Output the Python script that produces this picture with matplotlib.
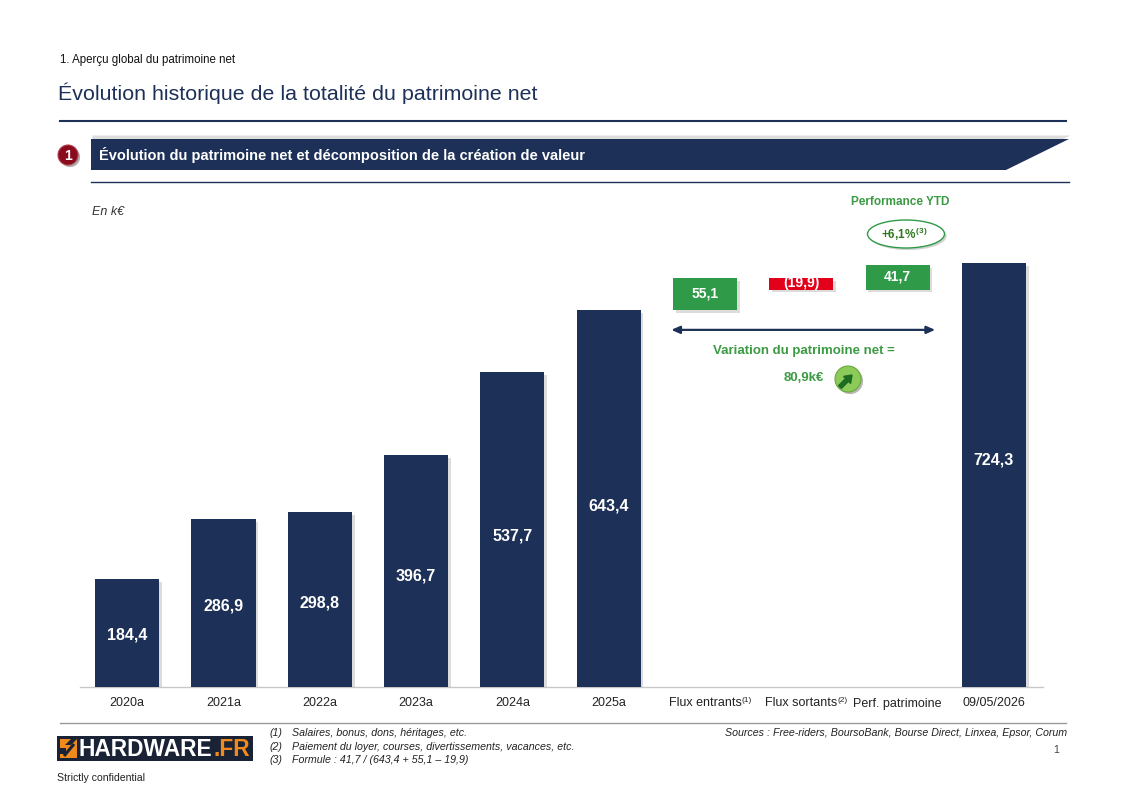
import matplotlib
matplotlib.use("Agg")
import matplotlib.pyplot as plt
import matplotlib.patheffects as pe
import matplotlib.transforms as mtransforms
from matplotlib.patches import Polygon, Rectangle, Ellipse, Circle, FancyArrow

plt.rcParams['font.family'] = ['Liberation Sans', 'DejaVu Sans']
plt.rcParams['mathtext.fontset'] = 'custom'
plt.rcParams['mathtext.rm'] = 'Liberation Sans'
plt.rcParams['mathtext.bf'] = 'Liberation Sans:bold'
plt.rcParams['mathtext.it'] = 'Liberation Sans:italic'

# ---------------- data ----------------
categories = ['2020a', '2021a', '2022a', '2023a', '2024a', '2025a',
              'Flux entrants', 'Flux sortants', 'Perf. patrimoine', '09/05/2026']
category_notes = ['', '', '', '', '', '', '(1)', '(2)', '', '']
annual_values = [184.4, 286.9, 298.8, 396.7, 537.7, 643.4]
flux_values = [55.1, -19.9, 41.7]
final_value = 724.3
variation_value = 80.9
perf_ytd = '+6,1%'

footnotes = ['Salaires, bonus, dons, héritages, etc.',
             'Paiement du loyer, courses, divertissements, vacances, etc.',
             'Formule : 41,7 / (643,4 + 55,1 – 19,9)']
sources = 'Sources : Free-riders, BoursoBank, Bourse Direct, Linxea, Epsor, Corum'

NAVY = '#1D3057'
GREEN = '#2F9A47'
RED = '#E2001A'
TXTGREEN = '#3B9A43'
DARKGREEN = '#2E7A1E'

def fmt(v):
    s = f"{abs(v):.1f}".replace('.', ',')
    return f"({s})" if v < 0 else s

W, H = 1123, 794
fig = plt.figure(figsize=(W / 100, H / 100), dpi=100)
fig.patch.set_facecolor('white')

# ---------------- main chart ----------------
ax = fig.add_axes([80 / W, 1 - 687 / H, 963 / W, 0.612])
ax.set_xlim(-0.49, 9.51)
ax.set_ylim(0, 830)
for s in ['top', 'right', 'left']:
    ax.spines[s].set_visible(False)
ax.spines['bottom'].set_color('#C8C8C8')
ax.spines['bottom'].set_linewidth(1.0)
ax.set_yticks([])
ax.set_xticks([])

# category labels (baseline aligned, with superscript notes)
trans = mtransforms.blended_transform_factory(ax.transData, ax.transAxes)
label_y = -19.5 / (0.612 * H)
cat_texts = []
for i, c in enumerate(categories):
    t = ax.text(i, label_y, c, transform=trans, ha='center', va='baseline',
                fontsize=9, color='#222222', clip_on=False)
    cat_texts.append(t)
fig.canvas.draw()
renderer = fig.canvas.get_renderer()
for t, n in zip(cat_texts, category_notes):
    if n:
        bb = t.get_window_extent(renderer)
        fig.text(bb.x1 / W + 0.5 / W, (bb.y0 + 8) / H, n, fontsize=6,
                 color='#222222', ha='left', va='baseline')

shadow = [pe.SimplePatchShadow(offset=(2, -2), shadow_rgbFace='#8C8C8C', alpha=0.3), pe.Normal()]
bw = 0.665

# annual bars
xs_annual = list(range(len(annual_values)))
bars = ax.bar(xs_annual, annual_values, width=bw, color=NAVY, zorder=3)
for b in bars:
    b.set_path_effects(shadow)
for x, v in zip(xs_annual, annual_values):
    ax.text(x, v * 0.48, fmt(v), ha='center', va='center', color='white',
            fontsize=11.5, fontweight='bold', zorder=5)

# waterfall
level = annual_values[-1]
flux_colors = [GREEN if v >= 0 else RED for v in flux_values]
for i, (v, c) in enumerate(zip(flux_values, flux_colors)):
    x = len(annual_values) + i
    bottom = level if v >= 0 else level + v
    b = ax.bar(x, abs(v), bottom=bottom, width=bw, color=c, zorder=3)[0]
    b.set_path_effects(shadow)
    ax.text(x, bottom + abs(v) / 2 + 1, fmt(v), ha='center', va='center', color='white',
            fontsize=10, fontweight='bold', zorder=5)
    level += v

# final bar
xf = len(categories) - 1
fb = ax.bar(xf, final_value, width=bw, color=NAVY, zorder=3)[0]
fb.set_path_effects(shadow)
ax.text(xf, final_value * 0.535, fmt(final_value), ha='center', va='center', color='white',
        fontsize=11.5, fontweight='bold', zorder=5)

# variation annotation
ax.annotate('', xy=(8 + 0.39, 610), xytext=(6 - 0.35, 610),
            arrowprops=dict(arrowstyle='<|-|>,head_length=0.5,head_width=0.22',
                            color=NAVY, lw=1.6, shrinkA=0, shrinkB=0), zorder=4)
ax.text(7.03, 574, 'Variation du patrimoine net =', ha='center', va='center',
        color=TXTGREEN, fontsize=9.5, fontweight='bold')
ax.text(7.03, 528, fmt(variation_value) + 'k€', ha='center', va='center',
        color=TXTGREEN, fontsize=9.5, fontweight='bold')
ax.text(8.03, 828, 'Performance YTD', ha='center', va='center',
        color=TXTGREEN, fontsize=8.5, fontweight='bold', clip_on=False)

# ---------------- overlay (page decoration) ----------------
ov = fig.add_axes([0, 0, 1, 1], zorder=10)
ov.set_xlim(0, W)
ov.set_ylim(H, 0)
ov.axis('off')
ov.patch.set_alpha(0)

ov.text(60, 60, '1. Aperçu global du patrimoine net', fontsize=8.3, color='#111111',
        ha='left', va='center')
ov.text(58, 93, 'Évolution historique de la totalité du patrimoine net', fontsize=15.4,
        color='#1D3057', ha='left', va='center')
ov.plot([60, 1066], [121, 121], color='#1D3057', lw=1.5)

# banner
band = Polygon([(91, 139), (1069, 139), (1006, 170), (91, 170)], closed=True,
               facecolor=NAVY, edgecolor='none')
band.set_path_effects([pe.SimplePatchShadow(offset=(1, 2.5), shadow_rgbFace='#909090', alpha=0.3),
                       pe.Normal()])
ov.add_patch(band)
ov.text(99, 155, 'Évolution du patrimoine net et décomposition de la création de valeur',
        fontsize=10.5, fontweight='bold', color='white', ha='left', va='center')
ov.plot([91, 1069], [182, 182], color='#1D3057', lw=1.0)

# badge
badge = Circle((68, 155), 10, facecolor='#8A0B1E', edgecolor='#B04050', lw=0.8)
badge.set_path_effects([pe.SimplePatchShadow(offset=(1.5, -1.5), shadow_rgbFace='#606060', alpha=0.5),
                        pe.Normal()])
ov.add_patch(badge)
ov.text(68, 155.5, '1', fontsize=10, fontweight='bold', color='white', ha='center', va='center')

ov.text(92, 212, 'En k€', fontsize=9, style='italic', color='#333333', ha='left', va='center')

# YTD ellipse
ell = Ellipse((906, 234), 77, 28, facecolor='white', edgecolor=GREEN, lw=1.0)
ell.set_path_effects([pe.SimplePatchShadow(offset=(1.5, -1.5), shadow_rgbFace='#808080', alpha=0.35),
                      pe.Normal()])
ov.add_patch(ell)
ov.text(904, 234, perf_ytd + r'$^{\mathbf{\,(3)}}$', fontsize=8.5, fontweight='bold',
        color=DARKGREEN, ha='center', va='center')

# up arrow icon
ic = Circle((848, 379), 13, facecolor='#8CCB5A', edgecolor='#6AA83C', lw=0.8)
ic.set_path_effects([pe.SimplePatchShadow(offset=(1.5, -1.5), shadow_rgbFace='#707070', alpha=0.5),
                     pe.Normal()])
ov.add_patch(ic)
ov.add_patch(FancyArrow(840, 387, 12, -12, width=4, head_width=10, head_length=7,
                        length_includes_head=True, color='#1F6B22'))

# footer
ov.plot([60, 1066], [723, 723], color='#9A9A9A', lw=1.0)
ov.add_patch(Rectangle((57, 736), 196, 25, facecolor='#1A2236', edgecolor='none'))
ov.add_patch(Rectangle((60, 739), 17, 19, facecolor='#F08A1C', edgecolor='none'))
ov.add_patch(Polygon([(60, 748), (66, 748), (66, 754), (60, 754)], facecolor='#1A2236', edgecolor='none'))
ov.add_patch(Polygon([(77, 739), (71, 739), (65, 745), (71, 745)], facecolor='#1A2236', edgecolor='none'))
ov.plot([64, 74], [756, 744], color='#1A2236', lw=2.2, solid_capstyle='butt')
hw = ov.text(79, 749, 'HARDWARE', fontsize=16.4, fontweight='bold', color='white',
             ha='left', va='center')
fig.canvas.draw()
hb = hw.get_window_extent(fig.canvas.get_renderer())
ov.text(hb.x1 + 0.5, 749, '.FR', fontsize=16.4, fontweight='bold', color='#F08A1C',
        ha='left', va='center')

for k, note in enumerate(footnotes):
    y = 733 + k * 13.5
    ov.text(270, y, f'({k + 1})', fontsize=7.7, style='italic', color='#222222', ha='left', va='center')
    ov.text(292, y, note, fontsize=7.7, style='italic', color='#222222', ha='left', va='center')
ov.text(1067, 733, sources, fontsize=7.7, style='italic', color='#222222', ha='right', va='center')
ov.text(1059, 750, '1', fontsize=7.5, color='#444444', ha='right', va='center')
ov.text(57, 778, 'Strictly confidential', fontsize=7.6, color='#222222', ha='left', va='center')

fig.savefig('out.png', dpi=100)
